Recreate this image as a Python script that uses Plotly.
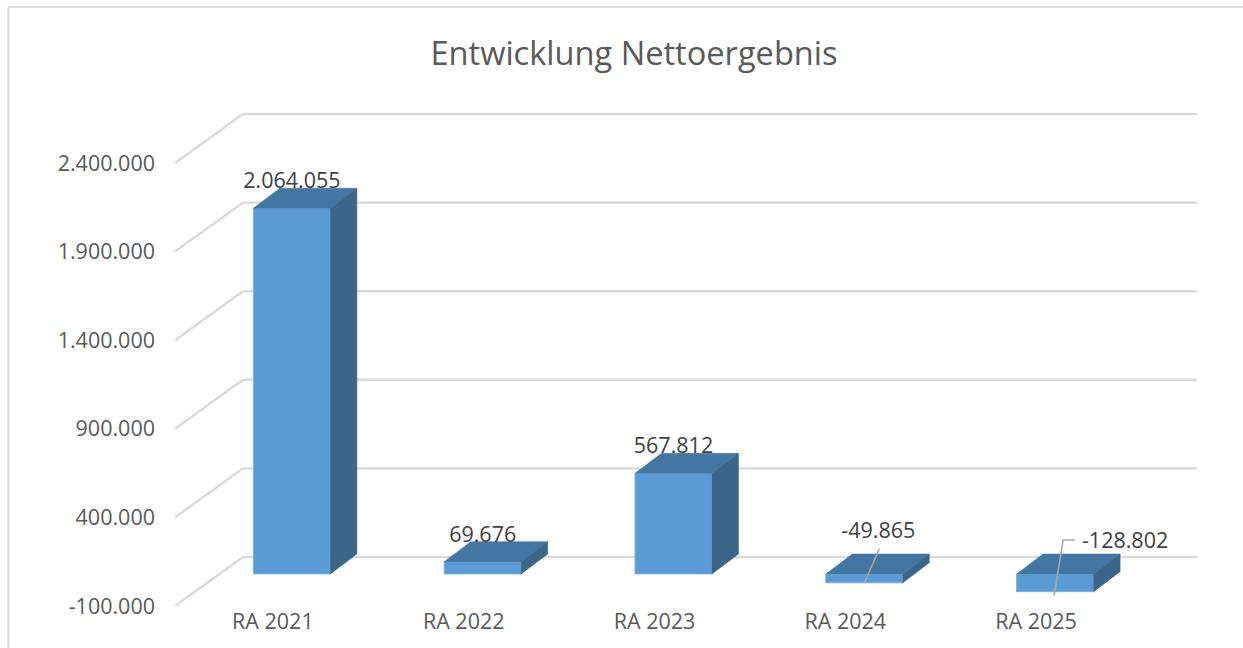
import plotly.graph_objects as go

# ---- data ----
categories = ["RA 2021", "RA 2022", "RA 2023", "RA 2024", "RA 2025"]
values = [2064055, 69676, 567812, -49865, -128802]
value_ticks = [-100000, 400000, 900000, 1400000, 1900000, 2400000]
title_text = "Entwicklung Nettoergebnis"

# ---- projection of the 3D chart box, in pixels ----
W, H = 1243, 648
PLOT_L, PLOT_R, PLOT_T, PLOT_B = 175, 1197, 113, 606
PX_PER_CAT = 190.8
PX_PER_UNIT = 88.6 / 500000
WALL_DX, WALL_DY = 68, 49          # full depth of the floor
BAR_DX, BAR_DY = 26.5, 20          # depth of one bar
PLANE_DX, PLANE_DY = 19, 14.3      # front of the bars relative to the front of the floor
BAR_W = 77

def ux(px):
    return px / PX_PER_CAT

def uy(px):
    return px / PX_PER_UNIT

fmt = lambda v: f"{v:,}".replace(",", ".")

x_min = -0.5 - ux(2.5)
x_max = x_min + ux(PLOT_R - PLOT_L)
y_min = value_ticks[0]
y_max = y_min + uy(PLOT_B - PLOT_T)

positions = list(range(len(categories)))
# bars stop at the axis minimum, as in the reference; the labels keep the true values
drawn = [max(v, y_min) for v in values]
GRID = "#d9d9d9"
FRONT, TOP, SIDE = "#5b9bd5", "#4476a3", "#3b6589"
TICK_COLOR, LABEL_COLOR = "#595959", "#404040"
FONT = "Open Sans"

fig = go.Figure()

# gridlines: floor edge + back wall
shapes = []
for t in value_ticks:
    xs = [x_min, x_min + ux(WALL_DX), x_max]
    ys = [t, t + uy(WALL_DY), t + uy(WALL_DY)]
    for i in range(2):
        shapes.append(dict(type="line", xref="x", yref="y", x0=xs[i], y0=ys[i], x1=xs[i + 1], y1=ys[i + 1],
                           line=dict(color=GRID, width=2.4), layer="below"))
# chart frame (open towards the right and bottom of the page)
shapes.append(dict(type="line", xref="paper", yref="paper", x0=8.5 / W, x1=8.5 / W, y0=0, y1=1 - 7 / H,
                   line=dict(color="#dcdcdc", width=2)))
shapes.append(dict(type="line", xref="paper", yref="paper", x0=8 / W, x1=1, y0=1 - 7 / H, y1=1 - 7 / H,
                   line=dict(color="#dcdcdc", width=2)))

# bars
px0, py0 = ux(PLANE_DX), uy(PLANE_DY)
half = ux(BAR_W) / 2
dx, dy = ux(BAR_DX), uy(BAR_DY)
fig.add_trace(go.Bar(x=[p + px0 for p in positions], y=drawn, base=py0, width=2 * half,
                     marker=dict(color=FRONT, line=dict(color="#7fb0de", width=1)), showlegend=False))
for p, v in zip(positions, drawn):
    left, right = p + px0 - half, p + px0 + half
    hi, lo = max(v, 0) + py0, min(v, 0) + py0
    fig.add_trace(go.Scatter(x=[left, right, right + dx, left + dx, left],
                             y=[hi, hi, hi + dy, hi + dy, hi],
                             mode="lines", fill="toself", fillcolor=TOP, line=dict(color=TOP, width=0.5),
                             showlegend=False, hoverinfo="skip"))
    fig.add_trace(go.Scatter(x=[right, right + dx, right + dx, right, right],
                             y=[hi, hi + dy, lo + dy, lo, hi],
                             mode="lines", fill="toself", fillcolor=SIDE, line=dict(color=SIDE, width=0.5),
                             showlegend=False, hoverinfo="skip"))

# leader lines for the two negative labels
leader_24_x = [3 + px0 + ux(15), 3 + px0]
leader_24_y = [py0 + uy(25), values[3] + py0 + uy(0)]
leader_25_x = [4 + px0 + ux(20), 4 + px0 + ux(8), 4 + px0 - ux(1)]
leader_25_y = [py0 + uy(34), py0 + uy(34), values[4] + py0 + uy(1)]
for lx, ly in ((leader_24_x, leader_24_y), (leader_25_x, leader_25_y)):
    fig.add_trace(go.Scatter(x=lx, y=ly, mode="lines", line=dict(color="#a6a6a6", width=1.6),
                             showlegend=False, hoverinfo="skip"))

# data labels
label_dx = [0, 0, 0, 14, 70]
label_dy = [25.5, 25.5, 25.5, 41, 31]
fig.add_trace(go.Scatter(
    x=[p + px0 + ux(d) for p, d in zip(positions, label_dx)],
    y=[max(v, 0) + py0 + uy(d) for v, d in zip(values, label_dy)],
    mode="text", text=[fmt(v) for v in values], textposition="middle center",
    textfont=dict(family=FONT, size=21.5, color=LABEL_COLOR), showlegend=False, hoverinfo="skip"))

fig.update_layout(
    width=W, height=H, margin=dict(l=0, r=0, t=0, b=0),
    paper_bgcolor="white", plot_bgcolor="rgba(0,0,0,0)", barmode="overlay", shapes=shapes,
    title=dict(text=title_text, x=634 / W, xanchor="center", y=1 - 54 / H, yanchor="middle",
               font=dict(family=FONT, size=32.6, color=TICK_COLOR)),
    xaxis=dict(domain=[PLOT_L / W, PLOT_R / W], range=[x_min, x_max], tickmode="array", tickvals=positions,
               ticktext=categories, showgrid=False, zeroline=False, showline=False, ticks="", automargin=False,
               ticklabelstandoff=0, tickfont=dict(family=FONT, size=21.5, color=TICK_COLOR)),
    yaxis=dict(domain=[1 - PLOT_B / H, 1 - PLOT_T / H], range=[y_min, y_max], tickmode="array", tickvals=value_ticks,
               ticktext=[fmt(t) for t in value_ticks], showgrid=False, zeroline=False, showline=False, ticks="", automargin=False,
               ticklabelstandoff=19, tickfont=dict(family=FONT, size=21.5, color=TICK_COLOR)),
)
fig.write_html("out.html", post_script="document.body.style.margin='0';document.body.style.overflow='hidden';",
               config={"displayModeBar": False})
